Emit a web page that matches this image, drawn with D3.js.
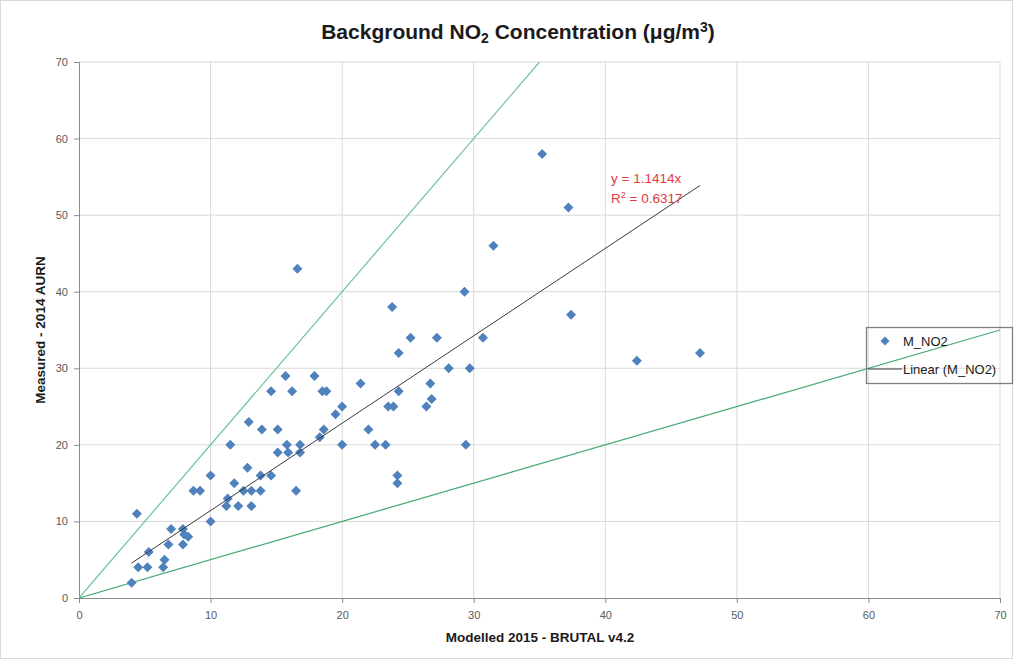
<!DOCTYPE html>
<html><head><meta charset="utf-8">
<script src="https://cdn.jsdelivr.net/npm/d3@7"></script>
<style>body{margin:0;background:#fff}svg{display:block}</style>
</head><body>
<svg id="c" width="1015" height="661"></svg>
<script>
const modelled = [4.0,4.4,4.5,5.2,5.3,6.4,6.5,6.8,7.0,7.9,7.9,8.0,8.3,8.7,9.2,10.0,10.0,11.2,11.3,11.5,11.8,12.1,12.5,12.8,12.9,13.1,13.1,13.8,13.8,13.9,14.6,14.6,15.1,15.1,15.7,15.8,15.9,16.2,16.5,16.6,16.8,16.8,17.9,18.3,18.5,18.6,18.8,19.5,20.0,20.0,21.4,22.0,22.5,23.3,23.5,23.8,23.9,24.2,24.2,24.3,24.3,25.2,26.4,26.7,26.8,27.2,28.1,29.3,29.4,29.7,30.7,31.5,35.2,37.2,37.4,42.4,47.2];
const measured = [2,11,4,4,6,4,5,7,9,7,9,8.3,8,14,14,10,16,12,13,20,15,12,14,17,23,14,12,14,16,22,16,27,19,22,29,20,19,27,14,43,19,20,29,21,27,22,27,24,25,20,28,22,20,20,25,38,25,16,15,32,27,34,25,28,26,34,30,40,20,30,34,46,58,51,37,31,32];
const ticks = [0,10,20,30,40,50,60,70];
const slope = 1.1414;
const r2 = 0.6317;
const upperRatio = 2, lowerRatio = 0.5;

const svg = d3.select("#c");
const x = d3.scaleLinear().domain([0,70]).range([79,1000]);
const y = d3.scaleLinear().domain([0,70]).range([598,62]);
const font = "'Liberation Sans', Arial, sans-serif";

svg.append("rect").attr("x",0.5).attr("y",0.5).attr("width",1012).attr("height",658)
  .attr("fill","#fff").attr("stroke","#d9d9d9");

// gridlines
svg.append("g").selectAll("line").data(ticks.slice(1)).join("line")
  .attr("x1",79).attr("x2",1000).attr("y1",d=>y(d)).attr("y2",d=>y(d))
  .attr("stroke","#d9d9d9").attr("stroke-width",1);
svg.append("g").selectAll("line").data(ticks.slice(1)).join("line")
  .attr("y1",62).attr("y2",598).attr("x1",d=>x(d)).attr("x2",d=>x(d))
  .attr("stroke","#d9d9d9").attr("stroke-width",1);

// axes
const xa = svg.append("g").attr("transform","translate(0,598)")
  .call(d3.axisBottom(x).tickValues(ticks).tickSize(5).tickPadding(8));
const ya = svg.append("g").attr("transform","translate(79,0)")
  .call(d3.axisLeft(y).tickValues(ticks).tickSize(5).tickPadding(6));
[xa,ya].forEach(g=>{
  g.selectAll("path,line").attr("stroke","#8c8c8c");
  g.selectAll("text").attr("fill","#595959").style("font-family",font).style("font-size","11px");
});

// clip for reference lines
svg.append("clipPath").attr("id","clip").append("rect")
  .attr("x",79).attr("y",62).attr("width",921).attr("height",536);
const cl = svg.append("g").attr("clip-path","url(#clip)");
cl.append("line").attr("x1",x(0)).attr("y1",y(0)).attr("x2",x(70/upperRatio)).attr("y2",y(70))
  .attr("stroke","#6cc19b").attr("stroke-width",1.2);
cl.append("line").attr("x1",x(0)).attr("y1",y(0)).attr("x2",x(70)).attr("y2",y(70*lowerRatio))
  .attr("stroke","#3fa86e").attr("stroke-width",1.2);

// points
const diamond = "M0,-5L5,0L0,5L-5,0Z";
svg.append("g").selectAll("path").data(modelled).join("path")
  .attr("d",diamond)
  .attr("transform",(d,i)=>`translate(${x(d)},${y(measured[i])})`)
  .attr("fill","#4f81bd");

// trendline
const xmin = d3.min(modelled), xmax = d3.max(modelled);
svg.append("line").attr("x1",x(xmin)).attr("y1",y(slope*xmin))
  .attr("x2",x(xmax)).attr("y2",y(slope*xmax))
  .attr("stroke","#3a3a3a").attr("stroke-width",1);

// equation text
const eq = svg.append("g").style("font-family",font).style("font-size","13.5px").attr("fill","#e0393e");
eq.append("text").attr("x",611).attr("y",183).text(`y = ${slope}x`);
const r = eq.append("text").attr("x",611).attr("y",203);
r.append("tspan").text("R");
r.append("tspan").attr("dy",-5).style("font-size","9px").text("2");
r.append("tspan").attr("dy",5).text(` = ${r2}`);

// title
const t = svg.append("text").attr("x",518).attr("y",39).attr("text-anchor","middle")
  .style("font-family",font).style("font-size","21px").style("font-weight","bold").attr("fill","#1a1a1a");
t.append("tspan").text("Background NO");
t.append("tspan").attr("dy",4).style("font-size","14px").text("2");
t.append("tspan").attr("dy",-4).text(" Concentration (μg/m");
t.append("tspan").attr("dy",-7).style("font-size","14px").text("3");
t.append("tspan").attr("dy",7).text(")");

// axis titles
svg.append("text").attr("x",540).attr("y",642).attr("text-anchor","middle")
  .style("font-family",font).style("font-size","13.5px").style("font-weight","bold").attr("fill","#1a1a1a")
  .text("Modelled 2015 - BRUTAL v4.2");
svg.append("text").attr("transform","translate(45,330) rotate(-90)").attr("text-anchor","middle")
  .style("font-family",font).style("font-size","13.5px").style("font-weight","bold").attr("fill","#1a1a1a")
  .text("Measured - 2014 AURN");

// legend
const lg = svg.append("g");
lg.append("rect").attr("x",866.5).attr("y",327.5).attr("width",146).attr("height",56)
  .attr("fill","none").attr("stroke","#7f7f7f").attr("stroke-width",1.3);
lg.append("path").attr("d",diamond).attr("transform","translate(885,341) scale(0.9)").attr("fill","#4f81bd");
lg.append("text").attr("x",903).attr("y",346).style("font-family",font).style("font-size","13px").attr("fill","#1a1a1a").text("M_NO2");
lg.append("line").attr("x1",868).attr("x2",902).attr("y1",369).attr("y2",369).attr("stroke","#3a3a3a");
lg.append("text").attr("x",903).attr("y",374).style("font-family",font).style("font-size","13px").attr("fill","#1a1a1a").text("Linear (M_NO2)");
</script>
</body></html>
